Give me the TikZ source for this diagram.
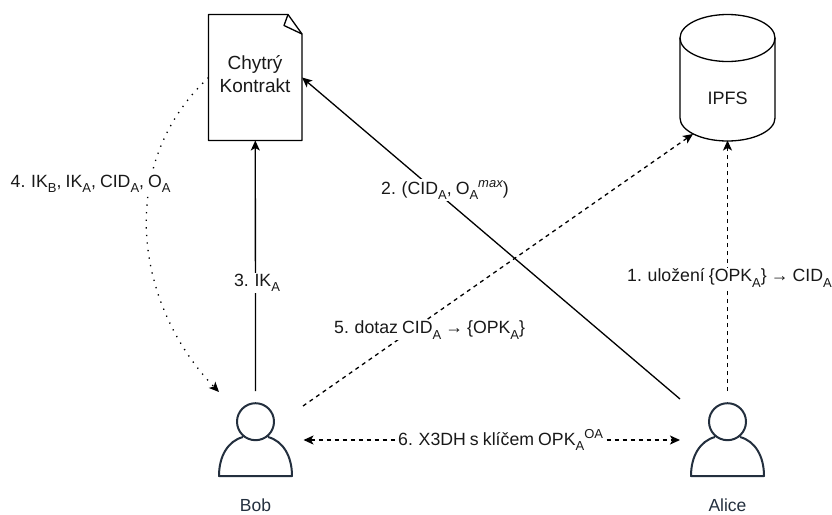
\documentclass[tikz,border=0pt]{standalone}
\usepackage{fontspec}
\setmainfont{Liberation Sans}
\usetikzlibrary{arrows.meta}
\definecolor{persona}{HTML}{232F3E}
\newcommand{\lowtxt}[1]{\raisebox{-0.30em}{\fontsize{13}{13}\selectfont #1}}
\newcommand{\hightxt}[1]{\raisebox{0.40em}{\fontsize{13}{13}\selectfont #1}}
\newcommand{\tightwords}{\spaceskip 4.1pt\relax}
\tikzset{
  x=1pt,y=-1pt,
  shapeline/.style={draw=black,line width=1.3pt,line join=round},
  personline/.style={draw=persona,line width=2pt,line join=round},
  anchorbox/.style={inner sep=0pt,outer sep=0pt,draw=none},
  conn/.style={line width=1.3pt,-{Stealth[length=10pt,width=9pt,inset=2.5pt]}},
  dashconn/.style={conn,dash pattern=on 4pt off 4pt},
  dotconn/.style={conn,dash pattern=on 1.3pt off 6.3pt},
  bothconn/.style={line width=1.3pt,{Stealth[length=10pt,width=9pt,inset=2.5pt]}-{Stealth[length=10pt,width=9pt,inset=2.5pt]},dash pattern=on 4pt off 4pt},
  lbl/.style={fill=white,inner sep=1pt,font=\fontsize{17.7}{20}\selectfont,text=black!90,execute at begin node=\tightwords},
  personname/.style={inner sep=0pt,anchor=base,font=\fontsize{17.5}{20}\selectfont,text=persona}
}
\begin{document}
\begin{tikzpicture}
\useasboundingbox (0,0) rectangle (832,514);
% anchor boxes
\node[anchorbox,minimum width=93.5pt,minimum height=126pt] (doc) at (255.3,77.5) {};
\node[anchorbox,minimum width=95pt,minimum height=126pt] (ipfs) at (727.5,77.5) {};
\node[anchorbox,minimum width=96pt,minimum height=98pt] (bob) at (255.5,440) {};
\node[anchorbox,minimum width=95pt,minimum height=98pt] (alice) at (727.5,440) {};
\coordinate (aliceNW) at (680,399);
\coordinate (bobNE) at (303,406);
\coordinate (bobNW) at (219,392);
\coordinate (ipfsSW) at (693,134);
% document
\draw[shapeline] (208.5,14.5) -- (288,14.5) -- (302,34) -- (302,140.5) -- (208.5,140.5) -- cycle;
\draw[shapeline] (288,14.5) -- (284,25.5) -- (302,34);
% cylinder
\draw[shapeline] (680,38) arc[x radius=47.5,y radius=23.5,start angle=180,end angle=360] -- (775,118)
  arc[x radius=47.5,y radius=23,start angle=0,end angle=180] -- cycle;
\draw[shapeline] (680,38) arc[x radius=47.5,y radius=23.5,start angle=180,end angle=0];
% persons
\draw[personline] (255.5,421.7) circle[radius=18.5];
\draw[personline] (243,437) .. controls (228,441) and (219,456) .. (219,476) -- (292,476) .. controls (292,456) and (283,441) .. (268,437);
\draw[personline] (727.5,421.7) circle[radius=18.5];
\draw[personline] (715,437) .. controls (700,441) and (691,456) .. (691,476) -- (764,476) .. controls (764,456) and (755,441) .. (740,437);
% connectors
\draw[conn] (bob.north) -- (doc.south);
\draw[conn] (aliceNW) -- (doc.east);
\draw[dashconn] (alice.north) -- (ipfs.south);
\draw[dashconn] (bobNE) -- (ipfsSW);
\draw[bothconn] (bob.east) -- (alice.west);
\draw[dotconn] (doc.west) .. controls (115,165) and (135,305) .. (bobNW);
% labels
\node[inner sep=0pt,align=center,font=\fontsize{19}{23}\selectfont,text=black!90] (doctext) at (255,74.5) {Chytrý\\Kontrakt};
\node[inner sep=0pt,font=\fontsize{18}{20}\selectfont,text=black!90] (ipfstext) at (727.5,98) {IPFS};
\node[lbl,anchor=west] (l1) at (626,278) {1. uložení \{OPK\lowtxt{A}\} → CID\lowtxt{A}};
\node[lbl,anchor=west] (l2) at (380,190) {2. (CID\lowtxt{A}, O\lowtxt{A}\hightxt{\itshape max})};
\node[lbl,anchor=center] (l3) at (257,283) {3. IK\lowtxt{A}};
\node[lbl,anchor=west] (l4) at (9.5,184) {4. IK\lowtxt{B}, IK\lowtxt{A}, CID\lowtxt{A}, O\lowtxt{A}};
\node[lbl,anchor=west] (l5) at (333,330) {5. dotaz CID\lowtxt{A} → \{OPK\lowtxt{A}\}};
\node[lbl,anchor=west] (l6) at (397,440) {6. X3DH s klíčem OPK\lowtxt{A}\hightxt{OA}};
\node[personname] (bobname) at (255.5,511) {Bob};
\node[personname] (alicename) at (727.5,511) {Alice};
\end{tikzpicture}
\end{document}
